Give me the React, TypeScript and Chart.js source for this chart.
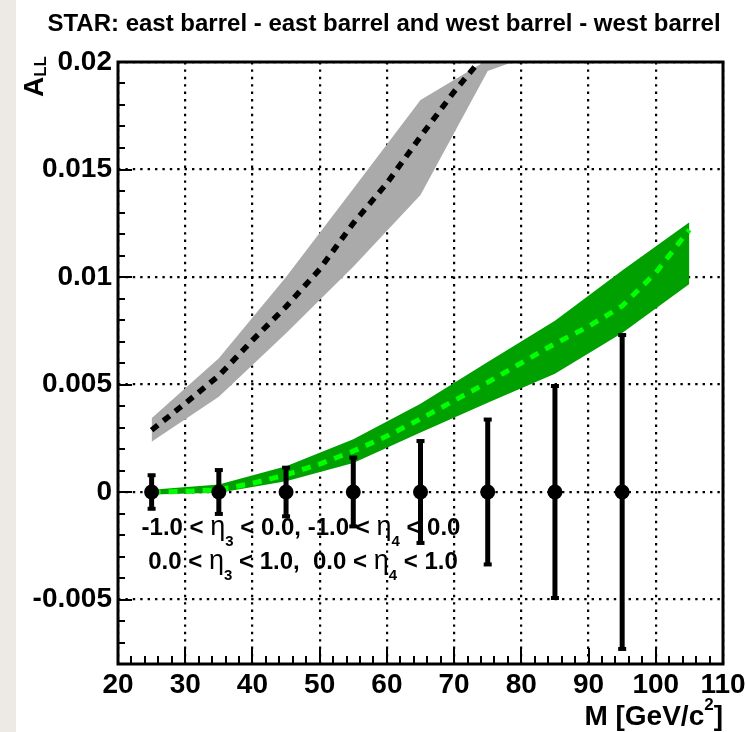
import React, { useEffect, useRef } from "react";
import { Chart, registerables } from "chart.js";

Chart.register(...registerables);

// ---------- text ----------
const TITLE = "STAR: east barrel - east barrel and west barrel - west barrel";
const X_TITLE = "M [GeV/c";
const X_TITLE_SUP = "2";
const X_TITLE_END = "]";
const Y_TITLE = "A";
const Y_TITLE_SUB = "LL";

// ---------- axes ----------
const X_TICKS = [20, 30, 40, 50, 60, 70, 80, 90, 100, 110];
const X_TICK_LABELS = ["20", "30", "40", "50", "60", "70", "80", "90", "100", "110"];
const Y_TICKS = [-0.005, 0, 0.005, 0.01, 0.015, 0.02];
const Y_TICK_LABELS = ["-0.005", "0", "0.005", "0.01", "0.015", "0.02"];

// ---------- gray theory band ----------
const GRAY_M = [25, 35, 45, 55, 65, 75, 85];
const GRAY_LOW = [0.00234, 0.00443, 0.00738, 0.01048, 0.01381, 0.01958, 0.0207];
const GRAY_HIGH = [0.00343, 0.00622, 0.0100, 0.0141, 0.01823, 0.0201, 0.0215];
const GRAY_MID_M = [25, 30, 35, 40, 45, 50, 55, 60, 65, 70, 75, 80];
const GRAY_MID = [0.00288, 0.00412, 0.00541, 0.00706, 0.00862, 0.01036, 0.0125, 0.01436, 0.01653, 0.01862, 0.0205, 0.0215];

// ---------- green theory band ----------
const GREEN_M = [25, 35, 45, 55, 65, 75, 85, 95, 105];
const GREEN_LOW = [-0.00012, -0.00003, 0.0005, 0.00135, 0.00277, 0.00415, 0.0055, 0.0074, 0.00967];
const GREEN_HIGH = [0.0001, 0.00035, 0.0012, 0.00245, 0.0041, 0.00605, 0.00797, 0.0103, 0.01255];
const GREEN_MID_M = [25, 30, 35, 40, 45, 50, 55, 60, 65, 70, 75, 80, 85, 90, 95, 100, 105];
const GREEN_MID = [0, 0.00003, 0.0001, 0.0004, 0.0008, 0.0013, 0.0019, 0.0026, 0.0034, 0.00425, 0.0051, 0.006, 0.0069, 0.0077, 0.00865, 0.0102, 0.0122];

// ---------- projected data points ----------
const DATA_M = [25, 35, 45, 55, 65, 75, 85, 95];
const DATA_ALL = [0, 0, 0, 0, 0, 0, 0, 0];
const DATA_ERR = [0.00078, 0.00102, 0.00113, 0.0016, 0.00237, 0.00337, 0.00493, 0.0073];

// ---------- annotation ----------
type Part = { t: string; k: "b" | "g" | "sub" | "sup" };
const NOTE_1: Part[] = [
  { t: "-1.0 < ", k: "b" }, { t: "η", k: "g" }, { t: "3", k: "sub" },
  { t: " < 0.0, -1.0 < ", k: "b" }, { t: "η", k: "g" }, { t: "4", k: "sub" },
  { t: " < 0.0", k: "b" },
];
const NOTE_2: Part[] = [
  { t: "0.0 < ", k: "b" }, { t: "η", k: "g" }, { t: "3", k: "sub" },
  { t: " < 1.0,  0.0 < ", k: "b" }, { t: "η", k: "g" }, { t: "4", k: "sub" },
  { t: " < 1.0", k: "b" },
];

const FONT = "'Liberation Sans', Arial, Helvetica, sans-serif";
const POINTS_INDEX = 6;

const pts = (xs: number[], ys: number[]) => xs.map((x, i) => ({ x, y: ys[i] }));

function drawParts(
  ctx: CanvasRenderingContext2D,
  parts: Part[],
  x: number,
  y: number,
  align: "left" | "center" | "right",
  base: number,
  subDy: number,
  supDy: number
) {
  const fonts = parts.map((p) =>
    p.k === "b"
      ? `bold ${base}px ${FONT}`
      : p.k === "g"
      ? `${Math.round(base * 1.12)}px ${FONT}`
      : `bold ${Math.round(base * 0.62)}px ${FONT}`
  );
  const widths = parts.map((p, i) => {
    ctx.font = fonts[i];
    return ctx.measureText(p.t).width;
  });
  const total = widths.reduce((a, b) => a + b, 0);
  let cx = align === "left" ? x : align === "center" ? x - total / 2 : x - total;
  ctx.textAlign = "left";
  ctx.textBaseline = "alphabetic";
  parts.forEach((p, i) => {
    ctx.font = fonts[i];
    const dy = p.k === "sub" ? subDy : p.k === "sup" ? supDy : 0;
    ctx.fillText(p.t, cx, y + dy);
    cx += widths[i];
  });
}

const decor = {
  id: "decor",
  beforeDatasetDraw(chart: any, args: any) {
    if (args.index !== POINTS_INDEX) return;
    const { ctx } = chart;
    const x = chart.scales.x;
    const y = chart.scales.y;
    ctx.save();
    ctx.fillStyle = "#000";
    DATA_M.forEach((m, i) => {
      const px = x.getPixelForValue(m);
      const yTop = y.getPixelForValue(DATA_ALL[i] + DATA_ERR[i]);
      const yBot = y.getPixelForValue(DATA_ALL[i] - DATA_ERR[i]);
      ctx.fillRect(px - 2.5, yTop, 5, yBot - yTop);
      ctx.fillRect(px - 4, yTop - 2, 8, 4);
      ctx.fillRect(px - 4, yBot - 2, 8, 4);
    });
    ctx.restore();
  },
  afterDatasetsDraw(chart: any) {
    const { ctx, chartArea } = chart;
    const x = chart.scales.x;
    const y = chart.scales.y;
    const { left, right, top, bottom } = chartArea;
    ctx.save();
    ctx.strokeStyle = "#000";
    ctx.lineWidth = 2;
    ctx.beginPath();
    for (let k = -8; k <= 20; k++) {
      const py = Math.round(y.getPixelForValue(k / 1000));
      const len = k % 5 === 0 ? 14 : 7;
      ctx.moveTo(left, py);
      ctx.lineTo(left + len, py);
    }
    for (let m = 20; m <= 110; m += 2) {
      const px = Math.round(x.getPixelForValue(m));
      const len = m % 10 === 0 ? 16 : 8;
      ctx.moveTo(px, bottom);
      ctx.lineTo(px, bottom - len);
    }
    ctx.stroke();
    ctx.lineWidth = 3;
    ctx.strokeRect(left, top, right - left, bottom - top);
    ctx.restore();
  },
  afterDraw(chart: any) {
    const { ctx } = chart;
    ctx.save();
    ctx.fillStyle = "#000";
    // title
    ctx.font = `bold 24px ${FONT}`;
    ctx.textAlign = "center";
    ctx.textBaseline = "alphabetic";
    ctx.fillText(TITLE, 384, 31);
    // x title
    drawParts(
      ctx,
      [
        { t: X_TITLE, k: "b" },
        { t: X_TITLE_SUP, k: "sup" },
        { t: X_TITLE_END, k: "b" },
      ],
      723,
      725,
      "right",
      28,
      0,
      -15
    );
    // y title (rotated)
    ctx.save();
    ctx.translate(43, 56);
    ctx.rotate(-Math.PI / 2);
    drawParts(
      ctx,
      [
        { t: Y_TITLE, k: "b" },
        { t: Y_TITLE_SUB, k: "sub" },
      ],
      0,
      0,
      "right",
      28,
      3,
      0
    );
    ctx.restore();
    // annotation
    drawParts(ctx, NOTE_1, 301, 535, "center", 24, 11, 0);
    drawParts(ctx, NOTE_2, 303, 569, "center", 24, 11, 0);
    ctx.restore();
  },
};

export default function App() {
  const ref = useRef<HTMLCanvasElement>(null);

  useEffect(() => {
    document.body.style.margin = "0";
    const canvas = ref.current;
    if (!canvas) return;
    const gridDash = [2.4, 5];
    const chart = new Chart(canvas, {
      type: "line",
      data: {
        datasets: [
          {
            data: pts(GRAY_M, GRAY_LOW),
            borderWidth: 0,
            pointRadius: 0,
            fill: false,
            order: 10,
          },
          {
            data: pts(GRAY_M, GRAY_HIGH),
            borderWidth: 0,
            pointRadius: 0,
            fill: "-1",
            backgroundColor: "#aaaaaa",
            order: 9,
          },
          {
            data: pts(GREEN_M, GREEN_LOW),
            borderWidth: 0,
            pointRadius: 0,
            fill: false,
            order: 8,
          },
          {
            data: pts(GREEN_M, GREEN_HIGH),
            borderWidth: 0,
            pointRadius: 0,
            fill: "-1",
            backgroundColor: "#00a000",
            order: 7,
          },
          {
            data: pts(GRAY_MID_M, GRAY_MID),
            borderColor: "#000000",
            borderWidth: 5.5,
            borderDash: [8, 7],
            pointRadius: 0,
            fill: false,
            clip: 0,
            order: 5,
          },
          {
            data: pts(GREEN_MID_M, GREEN_MID),
            borderColor: "#00ff00",
            borderWidth: 5,
            borderDash: [9, 8],
            pointRadius: 0,
            fill: false,
            clip: 0,
            order: 4,
          },
          {
            data: pts(DATA_M, DATA_ALL),
            showLine: false,
            pointRadius: 7.5,
            pointBackgroundColor: "#000",
            pointBorderColor: "#000",
            pointBorderWidth: 0,
            fill: false,
            clip: false,
            order: 0,
          },
        ],
      },
      options: {
        responsive: false,
        animation: false,
        devicePixelRatio: 1,
        events: [],
        layout: { padding: { top: 62, right: 23, left: 0, bottom: 0 } },
        plugins: {
          legend: { display: false },
          tooltip: { enabled: false },
          title: { display: false },
        },
        scales: {
          x: {
            type: "linear",
            min: 20,
            max: 110,
            afterBuildTicks: (s: any) => {
              s.ticks = X_TICKS.map((value) => ({ value }));
            },
            afterFit: (s: any) => {
              s.height = 68;
              s.paddingLeft = 0;
              s.paddingRight = 0;
            },
            grid: { color: "#000", lineWidth: 2.2, drawTicks: false },
            border: { display: false, dash: gridDash },
            ticks: {
              autoSkip: false,
              maxRotation: 0,
              padding: 4,
              color: "#000",
              font: { family: FONT, size: 28, weight: "bold" },
              callback: (_v: any, i: number) => X_TICK_LABELS[i],
            },
          },
          y: {
            type: "linear",
            min: -0.008,
            max: 0.02,
            afterBuildTicks: (s: any) => {
              s.ticks = Y_TICKS.map((value) => ({ value }));
            },
            afterFit: (s: any) => {
              s.width = 118;
              s.paddingTop = 0;
              s.paddingBottom = 0;
            },
            grid: { color: "#000", lineWidth: 2.2, drawTicks: false },
            border: { display: false, dash: gridDash },
            ticks: {
              autoSkip: false,
              padding: 6,
              color: "#000",
              font: { family: FONT, size: 28, weight: "bold" },
              callback: (_v: any, i: number) => Y_TICK_LABELS[i],
            },
          },
        },
      } as any,
      plugins: [decor],
    });
    return () => chart.destroy();
  }, []);

  return (
    <div
      style={{
        position: "relative",
        width: 746,
        height: 732,
        background: "#ffffff",
        overflow: "hidden",
      }}
    >
      <div
        style={{
          position: "absolute",
          left: 0,
          top: 0,
          width: 16,
          height: 732,
          background: "#edeae5",
        }}
      />
      <canvas
        ref={ref}
        width={746}
        height={732}
        style={{ position: "absolute", left: 0, top: 0 }}
      />
    </div>
  );
}
